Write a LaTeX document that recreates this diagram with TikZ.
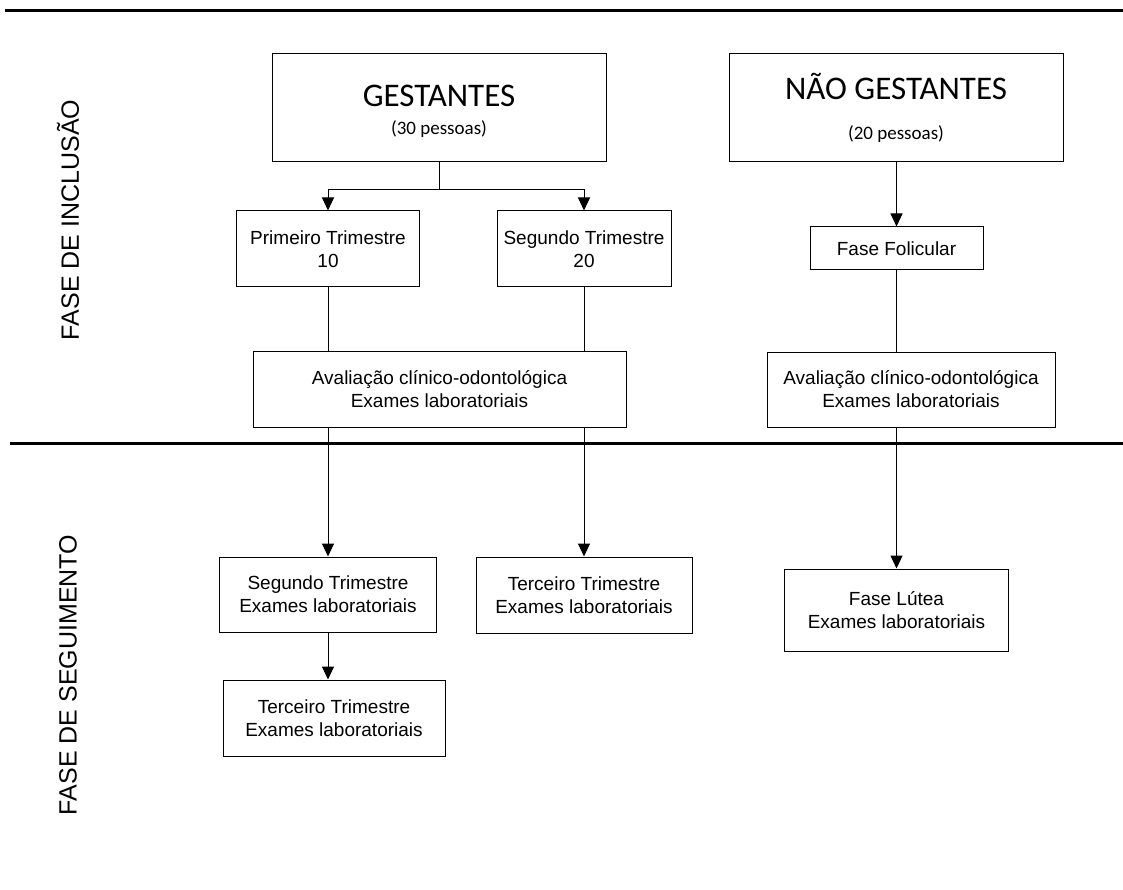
\documentclass[tikz,border=0pt]{standalone}
\usepackage{fontspec}
\setmainfont{Liberation Sans}
\newfontfamily\calfont{Carlito}
\usetikzlibrary{arrows.meta}
\begin{document}
\begin{tikzpicture}[x=1pt,y=-1pt,
  box/.style={draw=black, line width=1pt, inner sep=0pt, align=center, font=\fontsize{19}{23}\selectfont},
  arr/.style={line width=1pt, -{Triangle[width=12pt,length=13pt]}},
  con/.style={line width=1pt},
  sep/.style={line width=3pt},
  side/.style={rotate=90, inner sep=0pt, font=\fontsize{25}{29}\selectfont}]
\useasboundingbox (0,0) rectangle (1123,890);

% separators
\coordinate (t1) at (5,11);
\coordinate (t2) at (1123,11);
\coordinate (m1) at (10,443);
\coordinate (m2) at (1123,443);
\draw[sep] (t1) -- (t2);
\draw[sep] (m1) -- (m2);

% side labels
\node[side] (inc) at (68,220) {FASE DE INCLUSÃO};
\node[side] (seg) at (68,675) {FASE DE SEGUIMENTO};

% top boxes
\node[box, minimum width=334pt, minimum height=108pt] (gest) at (439,108)
  {{\calfont\fontsize{33}{33}\selectfont\rule{0pt}{28pt}GESTANTES}\\[5pt]{\calfont\fontsize{19}{19}\selectfont (30 pessoas)}};
\node[box, minimum width=334pt, minimum height=108pt] (nao) at (896,108)
  {{\calfont\fontsize{33}{33}\selectfont NÃO GESTANTES}\\[17pt]{\calfont\fontsize{19}{19}\selectfont (20 pessoas)}};

% second row
\node[box, minimum width=183pt, minimum height=76pt] (prim) at (328,249) {Primeiro Trimestre\\10};
\node[box, minimum width=174pt, minimum height=76pt] (seg1) at (584,249) {Segundo Trimestre\\20};
\node[box, minimum width=173pt, minimum height=43pt] (fol) at (896.5,248.5) {Fase Folicular};

% evaluation
\node[box, minimum width=373pt, minimum height=76pt] (aval1) at (439.5,389) {Avaliação clínico-odontológica\\Exames laboratoriais};
\node[box, minimum width=288pt, minimum height=75pt] (aval2) at (911,389.5) {Avaliação clínico-odontológica\\Exames laboratoriais};

% follow-up
\node[box, minimum width=217pt, minimum height=75pt] (segE) at (328,594.5) {Segundo Trimestre\\Exames laboratoriais};
\node[box, minimum width=216pt, minimum height=76pt] (ter2) at (584,595) {Terceiro Trimestre\\Exames laboratoriais};
\node[box, minimum width=224pt, minimum height=82pt] (lut) at (896.5,610) {Fase Lútea\\Exames laboratoriais};
\node[box, minimum width=222pt, minimum height=76pt] (ter1) at (334,718) {Terceiro Trimestre\\Exames laboratoriais};

% connectors
\coordinate (j) at (439,190);
\draw[con] (gest.south) -- (j);
\draw[arr] (j) -| (prim.north);
\draw[arr] (j) -| (seg1.north);
\draw[arr] (fol.north |- nao.south) -- (fol.north);
\draw[con] (prim.south) -- (prim.south |- aval1.north);
\draw[con] (seg1.south) -- (seg1.south |- aval1.north);
\draw[con] (fol.south) -- (fol.south |- aval2.north);
\draw[arr] (prim.south |- aval1.south) -- (segE.north);
\draw[arr] (seg1.south |- aval1.south) -- (ter2.north);
\draw[arr] (fol.south |- aval2.south) -- (lut.north);
\draw[arr] (segE.south) -- (segE.south |- ter1.north);
\end{tikzpicture}
\end{document}
